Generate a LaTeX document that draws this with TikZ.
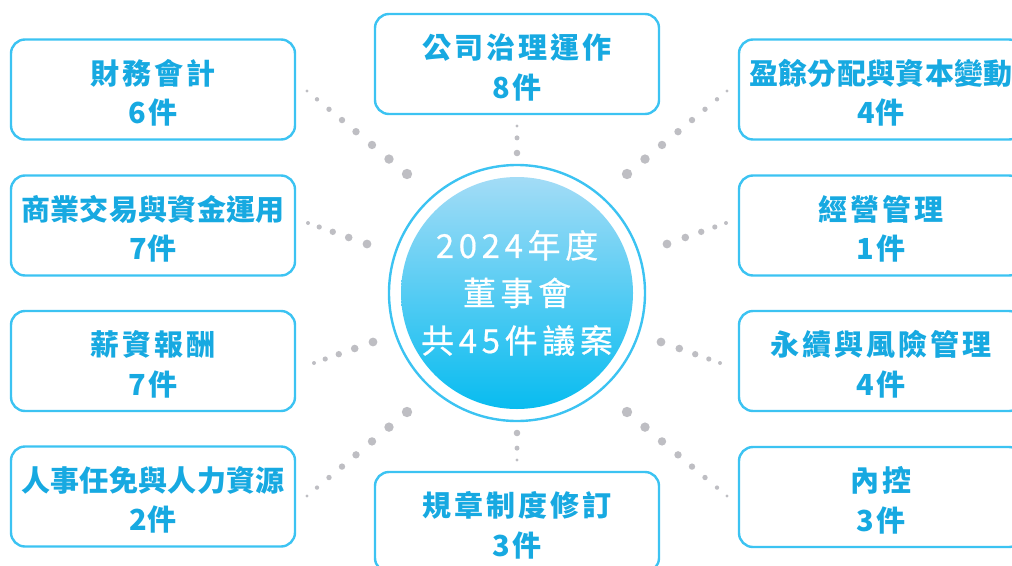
\documentclass[tikz,border=0pt]{standalone}
\usepackage{fontspec}
\newfontfamily\cjkwide{Noto Sans CJK TC}[LetterSpace=10]
\newfontfamily\cjknarrow{Noto Sans CJK TC}[LetterSpace=1]
\newfontfamily\cjkhub{Noto Sans CJK TC}[LetterSpace=14, FakeBold=0.6]
\usetikzlibrary{calc}
\definecolor{boxline}{HTML}{3CC3F2}
\definecolor{boxtext}{HTML}{17A9E1}
\definecolor{dotgray}{HTML}{BEBEC3}
\definecolor{hubtop}{HTML}{A3DCF6}
\definecolor{hubbot}{HTML}{08BCF0}
\newcommand{\Lift}{\rule{0pt}{31.5pt}}
\newcommand{\DiagDots}[2]{%
  \foreach \f/\r in {0/1.7,0.10/2.2,0.22/2.7,0.35/3.2,0.49/3.7,0.65/4.2,0.82/4.7,1/5.2}
    {\fill[dotgray] ($(#1)!\f!(#2)$) circle[radius=\r];}}
\newcommand{\SideDots}[2]{%
  \foreach \f/\r in {0/2.0,0.19/2.6,0.42/3.2,0.69/3.8,1/4.4}
    {\fill[dotgray] ($(#1)!\f!(#2)$) circle[radius=\r];}}
\newcommand{\StemDots}[2]{%
  \foreach \f/\r in {0/1.7,0.44/2.5,1/3.3}
    {\fill[dotgray] ($(#1)!\f!(#2)$) circle[radius=\r];}}
\begin{document}
\begin{tikzpicture}[x=1pt,y=-1pt,
  topic/.style={draw=boxline, line width=2.4pt, rounded corners=14pt,
    minimum width=284pt, minimum height=100pt, inner sep=0pt,
    text=boxtext, align=center},
  wide/.style={font=\cjkwide\bfseries\fontsize{29}{39.5}\selectfont},
  narrow/.style={font=\cjknarrow\bfseries\fontsize{29}{39.5}\selectfont},
  hub/.style={circle, minimum size=232pt, inner sep=0pt, top color=hubtop,
    bottom color=hubbot, text=white, align=center,
    font=\cjkhub\fontsize{33}{47.5}\selectfont},
  ring/.style={draw=boxline, line width=2.4pt}]
\useasboundingbox (0,0) rectangle (1012,565);
% boxes
\node[topic,wide]   (fin)  at (153,89.5)  {\Lift{}財務會計\\6件};
\node[topic,narrow] (biz)  at (153,225.5) {\Lift{}商業交易與資金運用\\7件};
\node[topic,wide]   (pay)  at (153,361)   {\Lift{}薪資報酬\\7件};
\node[topic,narrow] (hr)   at (153,496.5) {\Lift{}人事任免與人力資源\\2件};
\node[topic,wide]   (gov)  at (517,64)    {\Lift{}公司治理運作\\8件};
\node[topic,wide]   (rule) at (517,522)   {\Lift{}規章制度修訂\\3件};
\node[topic,narrow] (div)  at (881,89.5)  {\Lift{}盈餘分配與資本變動\\4件};
\node[topic,wide]   (mgmt) at (881,225.5) {\Lift{}經營管理\\1件};
\node[topic,wide]   (esg)  at (881,361)   {\Lift{}永續與風險管理\\4件};
\node[topic,wide]   (ctrl) at (881,497)   {\Lift{}內控\\3件};
% hub
\node[hub] (hub) at (517,293) {2024年度\\董事會\\共45件議案};
\draw[ring] (hub.center) circle[radius=128];
% connector end points
\coordinate (tla) at (307,91);  \coordinate (tlb) at (407,174);
\coordinate (tra) at (727,91);  \coordinate (trb) at (627,174);
\coordinate (bla) at (307,496); \coordinate (blb) at (407,412);
\coordinate (bra) at (727,496); \coordinate (brb) at (627,412);
\coordinate (l2a) at (308,223); \coordinate (l2b) at (367,244);
\coordinate (r2a) at (726,223); \coordinate (r2b) at (667,244);
\coordinate (l3a) at (314,363); \coordinate (l3b) at (373,342);
\coordinate (r3a) at (720,363); \coordinate (r3b) at (661,342);
\coordinate (tpa) at (517,126); \coordinate (tpb) at (517,153);
\coordinate (bta) at (517,460); \coordinate (btb) at (517,433);
\DiagDots{tla}{tlb}
\DiagDots{tra}{trb}
\DiagDots{bla}{blb}
\DiagDots{bra}{brb}
\SideDots{l2a}{l2b}
\SideDots{r2a}{r2b}
\SideDots{l3a}{l3b}
\SideDots{r3a}{r3b}
\StemDots{tpa}{tpb}
\StemDots{bta}{btb}
\end{tikzpicture}
\end{document}
